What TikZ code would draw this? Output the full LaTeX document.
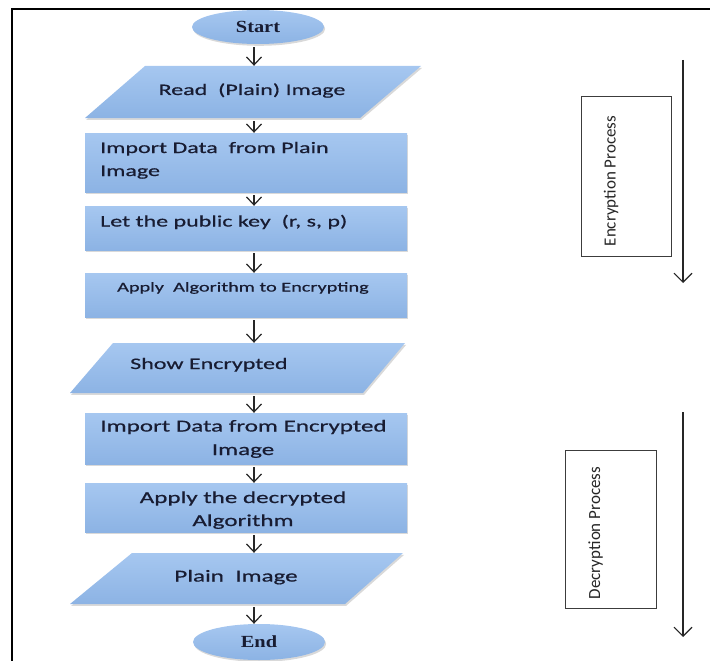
\documentclass[tikz,border=0pt]{standalone}
\usepackage{fontspec}
\usetikzlibrary{arrows.meta,shapes.geometric,shadows,calc}
\newfontfamily\flowfont[FakeStretch=1.5,FakeBold=0.6]{Carlito}
\newfontfamily\termfont[FakeStretch=1.2]{Liberation Serif}
\newfontfamily\sidefont{Carlito}
\definecolor{txt}{RGB}{24,28,50}
\definecolor{bluetop}{RGB}{166,199,240}
\definecolor{bluebot}{RGB}{140,179,228}
\definecolor{edgegray}{RGB}{60,60,60}
\begin{document}
\begin{tikzpicture}[x=1pt,y=-1pt,
  blueshade/.style={top color=bluetop,bottom color=bluebot,draw=none,
    drop shadow={shadow xshift=1.2pt,shadow yshift=-1.8pt,opacity=0.3}},
  procbox/.style={blueshade,rectangle,minimum width=322pt,minimum height=#1,inner sep=0pt},
  anchorbox/.style={rectangle,draw=none,minimum height=#1,minimum width=250pt,inner sep=0pt},
  term/.style={blueshade,ellipse,minimum width=132pt,minimum height=34pt,inner sep=0pt,
    font=\termfont\bfseries\fontsize{17}{20}\selectfont,text=txt},
  ft/.style={font=\flowfont\fontsize{16}{19}\selectfont,text=txt,inner sep=0pt},
  ftb/.style={font=\flowfont\fontsize{16.7}{19}\selectfont,text=txt,inner sep=0pt},
  fts/.style={font=\flowfont\fontsize{13.5}{16}\selectfont,text=txt,inner sep=0pt},
  flowarrow/.style={draw=black!85,line width=1.2pt,shorten <=3pt,
    -{Straight Barb[length=8pt,width=15pt,line width=1.2pt]}},
  sidebox/.style={draw=edgegray,line width=1pt,rectangle,inner sep=0pt},
  sidetext/.style={font=\sidefont\fontsize{17}{20}\selectfont,rotate=90,text=black!85,inner sep=0pt},
  sidearrow/.style={draw=black!85,line width=1.1pt,
    -{Straight Barb[length=9pt,width=18pt,line width=1.1pt]}}
]
\useasboundingbox (0,0) rectangle (710,661);
% frame
\draw[line width=1.6pt] (12,661) -- (12,9) -- (710,9);
\coordinate (ax) at (254,0);

% Start
\node[term] (start) at (258,27) {Start};

% Read (Plain) Image
\path[blueshade] (145,66) -- (421,66) -- (360,118) -- (85,118) -- cycle;
\node[anchorbox=52pt] (read) at (253,92) {};
\node[ft,anchor=base] (readT) at (252,95) {Read\ \ (Plain) Image};

% Import Data from Plain Image
\node[procbox=59pt] (import) at (246,162.5) {};
\node[ft,anchor=base west] (importT1) at (100,153) {Import Data\ \ from Plain};
\node[ft,anchor=base west] (importT2) at (100,176) {Image};

% Let the public key
\node[procbox=44pt] (let) at (246,228) {};
\node[ft,anchor=base west] (letT) at (100,226.5) {Let the public key\ \ (r, s, p)};

% Apply Algorithm to Encrypting
\node[procbox=44pt] (apply) at (246,295) {};
\node[fts,anchor=base] (applyT) at (243,291.5) {Apply\ \ Algorithm to Encrypting};

% Show Encrypted
\path[blueshade] (113,343) -- (405,343) -- (363,393) -- (70,393) -- cycle;
\node[anchorbox=50pt] (show) at (238,368) {};
\node[ft,anchor=base west] (showT) at (130,369) {Show Encrypted};

% Import Data from Encrypted Image
\node[procbox=51pt] (importenc) at (246,438.5) {};
\node[ftb,anchor=base] (importencT1) at (243.5,431.5) {Import Data from Encrypted};
\node[ftb,anchor=base] (importencT2) at (243,455) {Image};

% Apply the decrypted Algorithm
\node[procbox=49pt] (applydec) at (246,507.5) {};
\node[ftb,anchor=base] (applydecT1) at (243,503) {Apply the decrypted};
\node[ftb,anchor=base] (applydecT2) at (243,526) {Algorithm};

% Plain Image
\path[blueshade] (132,553) -- (403,553) -- (345,604) -- (70,604) -- cycle;
\node[anchorbox=51pt] (plain) at (237,578.5) {};
\node[ftb,anchor=base] (plainT) at (236,581.5) {Plain\ \ Image};

% End
\node[term,minimum height=36pt] (end) at (259,642) {End};

% flow arrows
\draw[flowarrow] (start.south -| ax) -- (read.north -| ax);
\draw[flowarrow] (read.south -| ax) -- (import.north -| ax);
\draw[flowarrow] (import.south -| ax) -- (let.north -| ax);
\draw[flowarrow] (let.south -| ax) -- (apply.north -| ax);
\draw[flowarrow] (apply.south -| ax) -- (show.north -| ax);
\draw[flowarrow] (show.south -| ax) -- (importenc.north -| ax);
\draw[flowarrow] (importenc.south -| ax) -- (applydec.north -| ax);
\draw[flowarrow] (applydec.south -| ax) -- (plain.north -| ax);
\draw[flowarrow] (plain.south -| ax) -- (end.north -| ax);

% Encryption process
\node[sidebox,minimum width=90pt,minimum height=159pt] (encbox) at (626,176.5) {};
\node[sidetext] (encT) at (611,181) {Encryption Process};
\coordinate (encS) at (683,60);
\coordinate (encE) at (683,283);
\draw[sidearrow] (encS) -- (encE);

% Decryption process
\node[sidebox,minimum width=91pt,minimum height=158pt] (decbox) at (610.5,529) {};
\node[sidetext] (decT) at (595.5,533) {Decryption Process};
\coordinate (decS) at (683,412);
\coordinate (decE) at (683,637);
\draw[sidearrow] (decS) -- (decE);
\end{tikzpicture}
\end{document}
